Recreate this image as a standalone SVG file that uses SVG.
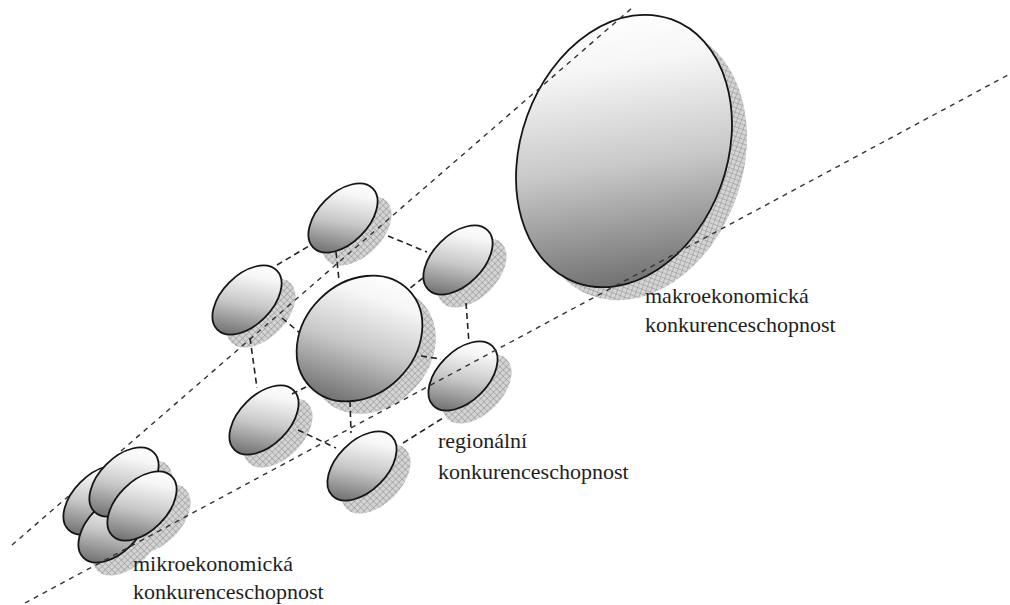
<svg xmlns="http://www.w3.org/2000/svg" xmlns:xlink="http://www.w3.org/1999/xlink" width="1010" height="605" viewBox="0 0 1010 605">
<style>
.shadow{fill:url(#hatch)}
.disc{fill:url(#grad);stroke:#151515;stroke-width:1.8}
.guide{fill:none;stroke:#333;stroke-width:1.4;stroke-dasharray:5 5}
.edge{fill:none;stroke:#222;stroke-width:1.6;stroke-dasharray:6 4}
.lbl{font-family:"Liberation Serif","Times New Roman",serif;font-size:22px;fill:#1e1e1e}
</style>
<defs>
<linearGradient id="grad" x1="0" y1="0.7" x2="1" y2="0.3">
<stop offset="0" stop-color="#6a6a6a"/>
<stop offset="0.45" stop-color="#c8c8c8"/>
<stop offset="0.8" stop-color="#f6f6f6"/>
<stop offset="1" stop-color="#fff"/>
</linearGradient>
<pattern id="hatch" width="4.5" height="4.5" patternUnits="userSpaceOnUse">
<rect width="4.5" height="4.5" fill="#d4d4d4"/>
<path d="M0 0.3H4.5M0.3 0V4.5" stroke="#8e8e8e" stroke-width="0.6"/>
</pattern>
<ellipse id="sm" rx="42" ry="25"/>
<ellipse id="md" rx="69" ry="56"/>
<ellipse id="lg" rx="140" ry="103"/>
</defs>
<rect width="1010" height="605" fill="#fff"/>

<g id="macro">
<use xlink:href="#lg" class="shadow" transform="translate(639 164) rotate(-70)"/>
<use xlink:href="#lg" class="disc" transform="translate(624 151) rotate(-70)"/>
</g>
<g id="reg-top">
<use xlink:href="#sm" class="shadow" transform="translate(357 231) rotate(-45)"/>
<use xlink:href="#sm" class="disc" transform="translate(343 218) rotate(-45)"/>
</g>
<g id="reg-upper-right">
<use xlink:href="#sm" class="shadow" transform="translate(472 273) rotate(-45)"/>
<use xlink:href="#sm" class="disc" transform="translate(458 260) rotate(-45)"/>
</g>
<g id="reg-left">
<use xlink:href="#sm" class="shadow" transform="translate(261 313) rotate(-45)"/>
<use xlink:href="#sm" class="disc" transform="translate(247 300) rotate(-45)"/>
</g>
<g id="reg-center">
<use xlink:href="#md" class="shadow" transform="translate(373 351) rotate(-45)"/>
<use xlink:href="#md" class="disc" transform="translate(359.5 338.5) rotate(-45)"/>
</g>
<g id="reg-right">
<use xlink:href="#sm" class="shadow" transform="translate(477 389) rotate(-45)"/>
<use xlink:href="#sm" class="disc" transform="translate(463 376) rotate(-45)"/>
</g>
<g id="reg-lower-left">
<use xlink:href="#sm" class="shadow" transform="translate(278 433) rotate(-45)"/>
<use xlink:href="#sm" class="disc" transform="translate(264 420) rotate(-45)"/>
</g>
<g id="reg-bottom">
<use xlink:href="#sm" class="shadow" transform="translate(376 479) rotate(-45)"/>
<use xlink:href="#sm" class="disc" transform="translate(362 466) rotate(-45)"/>
</g>
<g id="micro">
<use xlink:href="#sm" class="shadow" transform="translate(112 513) rotate(-45)"/>
<use xlink:href="#sm" class="shadow" transform="translate(127 541) rotate(-45)"/>
<use xlink:href="#sm" class="shadow" transform="translate(138 495) rotate(-45)"/>
<use xlink:href="#sm" class="shadow" transform="translate(156 519) rotate(-45)"/>
<use xlink:href="#sm" class="disc" transform="translate(98 500) rotate(-45)"/>
<use xlink:href="#sm" class="disc" transform="translate(113 528) rotate(-45)"/>
<use xlink:href="#sm" class="disc" transform="translate(124 482) rotate(-45)"/>
<use xlink:href="#sm" class="disc" transform="translate(142 506) rotate(-45)"/>
</g>

<g id="connectors">
<path class="guide" d="M12 545L71 494M121 451L632 8"/>
<path class="guide" d="M25 603L1008 75"/>
<path class="edge" d="M388 236L427 252M466 303L469 343M403 443L443 418M298 430L336 448M250 338L257 388M277 265L309 246"/>
<path class="edge" d="M336 252L339 280M423 278L409 289M421 356L441 359M350 401L351 433M292 394L306 387M282 318L300 333"/>
</g>

<g id="labels">
<text class="lbl" x="645" y="303">makroekonomická</text>
<text class="lbl" x="645" y="332">konkurenceschopnost</text>
<text class="lbl" x="438" y="448">regionální</text>
<text class="lbl" x="438" y="479">konkurenceschopnost</text>
<text class="lbl" x="133" y="571">mikroekonomická</text>
<text class="lbl" x="133" y="599">konkurenceschopnost</text>
</g>
</svg>
